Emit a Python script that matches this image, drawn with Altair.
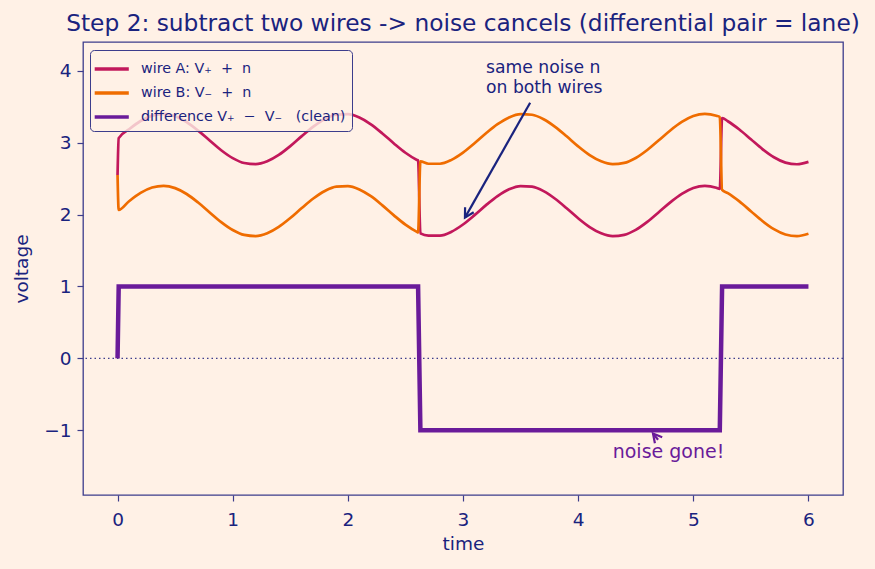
import altair as alt
import pandas as pd

# ---------------- data ----------------
time = [0.0, 0.01, 0.1, 0.2, 0.3, 0.4, 0.5, 0.6, 0.7, 0.8, 0.9, 1.0, 1.1, 1.2, 1.3,
        1.4, 1.5, 1.6, 1.7, 1.8, 1.9, 2.0, 2.1, 2.2, 2.3, 2.4, 2.5, 2.6, 2.61, 2.63,
        2.7, 2.8, 2.9, 3.0, 3.1, 3.2, 3.3, 3.4, 3.5, 3.6, 3.7, 3.8, 3.9, 4.0, 4.1,
        4.2, 4.3, 4.4, 4.5, 4.6, 4.7, 4.8, 4.9, 5.0, 5.1, 5.2, 5.23, 5.25, 5.3, 5.4,
        5.5, 5.6, 5.7, 5.8, 5.9, 6.0]

wire_a = [2.550, 3.064, 3.186, 3.301, 3.376, 3.400, 3.368, 3.286, 3.167, 3.030, 2.895,
          2.785, 2.717, 2.701, 2.741, 2.829, 2.952, 3.091, 3.223, 3.328, 3.389, 3.396,
          3.349, 3.255, 3.128, 2.989, 2.860, 2.760, 2.752, 1.739, 1.707, 1.707, 1.761,
          1.862, 1.992, 2.131, 2.257, 2.351, 2.397, 2.388, 2.326, 2.220, 2.088, 1.949,
          1.827, 1.740, 1.701, 1.718, 1.787, 1.898, 2.033, 2.170, 2.288, 2.370, 2.400,
          2.374, 2.357, 3.343, 3.298, 3.183, 3.047, 2.911, 2.797, 2.723, 2.700, 2.733]

wire_b = [2.550, 2.064, 2.186, 2.301, 2.376, 2.400, 2.368, 2.286, 2.167, 2.030, 1.895,
          1.785, 1.717, 1.701, 1.741, 1.829, 1.952, 2.091, 2.223, 2.328, 2.389, 2.396,
          2.349, 2.255, 2.128, 1.989, 1.860, 1.760, 1.752, 2.739, 2.707, 2.707, 2.761,
          2.862, 2.992, 3.131, 3.257, 3.351, 3.397, 3.388, 3.326, 3.220, 3.088, 2.949,
          2.827, 2.740, 2.701, 2.718, 2.787, 2.898, 3.033, 3.170, 3.288, 3.370, 3.400,
          3.374, 3.357, 2.343, 2.298, 2.183, 2.047, 1.911, 1.797, 1.723, 1.700, 1.733]

difference = [0, 1, 1, 1, 1, 1, 1, 1, 1, 1, 1, 1, 1, 1, 1, 1, 1, 1, 1, 1, 1, 1,
              1, 1, 1, 1, 1, 1, 1, -1, -1, -1, -1, -1, -1, -1, -1, -1, -1, -1, -1,
              -1, -1, -1, -1, -1, -1, -1, -1, -1, -1, -1, -1, -1, -1, -1, -1, 1, 1,
              1, 1, 1, 1, 1, 1, 1]

NB = "\u00a0"
series_names = [f"wire A: V\u208a{NB}{NB}+{NB}{NB}n",
                f"wire B: V\u208b{NB}{NB}+{NB}{NB}n",
                f"difference V\u208a{NB}{NB}\u2212{NB}{NB}V\u208b{NB}{NB}{NB}(clean)"]
series_colors = ["#c2185b", "#ef6c00", "#6a1b9a"]

x_ticks = [0, 1, 2, 3, 4, 5, 6]
y_ticks = [-1, 0, 1, 2, 3, 4]
zero_level = [0]

# annotation anchors (data coordinates)
noise_note_lines = ["same noise n", "on both wires"]
noise_note_x = [3.2]
noise_note_y = [3.97]
noise_arrow_tail_x = [3.583]
noise_arrow_tail_y = [3.556]
noise_arrow_head_x = [3.017]
noise_arrow_head_y = [1.958]

gone_note = "noise gone!"
gone_note_x = [4.30]
gone_note_y = [-1.39]
gone_arrow_tail_x = [4.694]
gone_arrow_tail_y = [-1.132]
gone_arrow_head_x = [4.650]
gone_arrow_head_y = [-1.046]

# ---------------- styling ----------------
BG = "#fff1e6"
NAVY = "#1a237e"
FRAME = "#3d3d8c"
FONT = "DejaVu Sans"

rows = []
for name, ys in zip(series_names, [wire_a, wire_b, difference]):
    for t, v in zip(time, ys):
        rows.append({"time": t, "voltage": v, "series": name})
df = pd.DataFrame(rows)

x_scale = alt.Scale(domain=[-0.3, 6.3], nice=False, zero=False)
y_scale = alt.Scale(domain=[-1.9, 4.4], nice=False, zero=False)

x_axis = alt.Axis(values=x_ticks, format="d", title="time", grid=False, domain=False,
                  tickColor=FRAME, tickSize=6, tickWidth=1.2, labelPadding=9,
                  labelFontSize=18.5, labelColor=NAVY, labelFont=FONT,
                  titleFontSize=18.5, titleColor=NAVY, titleFont=FONT,
                  titleFontWeight="normal", titlePadding=6)
y_axis = alt.Axis(values=y_ticks, format="d", title="voltage", grid=False, domain=False,
                  tickColor=FRAME, tickSize=6, tickWidth=1.2, labelPadding=6,
                  labelFontSize=18.5, labelColor=NAVY, labelFont=FONT,
                  titleFontSize=18.5, titleColor=NAVY, titleFont=FONT,
                  titleFontWeight="normal", titlePadding=12)

color = alt.Color(
    "series:N",
    scale=alt.Scale(domain=series_names, range=series_colors),
    legend=alt.Legend(
        title=None, orient="none", legendX=7, legendY=8,
        symbolType="M -1.3 0 H 1.8", symbolSize=484, symbolStrokeWidth=3.5,
        labelFontSize=14.3, labelColor=NAVY, labelFont=FONT, labelLimit=400,
        labelOffset=19, rowPadding=3,
        strokeColor=FRAME, fillColor="rgba(255,241,230,0.8)", padding=6,
        cornerRadius=4,
    ),
)

base = alt.Chart(df).encode(
    x=alt.X("time:Q", scale=x_scale, axis=x_axis),
    y=alt.Y("voltage:Q", scale=y_scale, axis=y_axis),
    color=color,
)

line_a = base.transform_filter(alt.datum.series == series_names[0]).mark_line(
    strokeWidth=2.7, interpolate="monotone")
line_b = base.transform_filter(alt.datum.series == series_names[1]).mark_line(
    strokeWidth=2.7, interpolate="monotone")
line_d = base.transform_filter(alt.datum.series == series_names[2]).mark_line(
    strokeWidth=4.5, interpolate="linear")

zero_rule = alt.Chart(pd.DataFrame({"v": zero_level})).mark_rule(
    color=FRAME, strokeWidth=1.3, strokeDash=[1.5, 3]
).encode(y=alt.Y("v:Q", scale=y_scale))

noise_df = pd.DataFrame({"x": noise_arrow_tail_x, "y": noise_arrow_tail_y,
                         "x2": noise_arrow_head_x, "y2": noise_arrow_head_y})
noise_shaft = alt.Chart(noise_df).mark_rule(color=NAVY, strokeWidth=2.2).encode(
    x=alt.X("x:Q", scale=x_scale), y=alt.Y("y:Q", scale=y_scale),
    x2="x2:Q", y2="y2:Q")
ARROW = "M -0.55 1 L 0 0 L 0.55 1"
noise_head = alt.Chart(noise_df).mark_point(
    shape=ARROW, filled=False, stroke=NAVY, strokeWidth=2.2, size=324, angle=209.5,
    opacity=1,
).encode(x=alt.X("x2:Q", scale=x_scale), y=alt.Y("y2:Q", scale=y_scale))

noise_text = alt.Chart(pd.DataFrame({"x": noise_note_x, "y": noise_note_y})).mark_text(
    text=noise_note_lines, align="left", baseline="alphabetic", fontSize=17.2,
    lineHeight=20.5, font=FONT, color=NAVY,
).encode(x=alt.X("x:Q", scale=x_scale), y=alt.Y("y:Q", scale=y_scale))

gone_df = pd.DataFrame({"x": gone_arrow_tail_x, "y": gone_arrow_tail_y,
                        "x2": gone_arrow_head_x, "y2": gone_arrow_head_y})
gone_shaft = alt.Chart(gone_df).mark_rule(color="#6a1b9a", strokeWidth=2.2).encode(
    x=alt.X("x:Q", scale=x_scale), y=alt.Y("y:Q", scale=y_scale),
    x2="x2:Q", y2="y2:Q")
gone_head = alt.Chart(gone_df).mark_point(
    shape=ARROW, filled=False, stroke="#6a1b9a", strokeWidth=2.2, size=300, angle=320,
    opacity=1,
).encode(x=alt.X("x2:Q", scale=x_scale), y=alt.Y("y2:Q", scale=y_scale))
gone_text = alt.Chart(pd.DataFrame({"x": gone_note_x, "y": gone_note_y})).mark_text(
    text=gone_note, align="left", baseline="alphabetic", fontSize=19, font=FONT,
    color="#6a1b9a",
).encode(x=alt.X("x:Q", scale=x_scale), y=alt.Y("y:Q", scale=y_scale))

chart = alt.layer(
    zero_rule, line_a, line_b, line_d,
    noise_shaft, noise_head, noise_text,
    gone_shaft, gone_head, gone_text,
).properties(
    width=760, height=453,
    padding={"left": 83, "top": 42, "right": 32, "bottom": 74},
    autosize=alt.AutoSizeParams(type="none"),
    title=alt.TitleParams(
        "Step 2: subtract two wires -> noise cancels (differential pair = lane)",
        fontSize=23.3, font=FONT, color=NAVY, fontWeight="normal",
        anchor="middle", offset=6,
    ),
).configure(background=BG).configure_view(
    stroke=FRAME, strokeWidth=1.3, fill=BG
)

chart.save("out.html", embed_options={"renderer": "svg", "actions": False})
